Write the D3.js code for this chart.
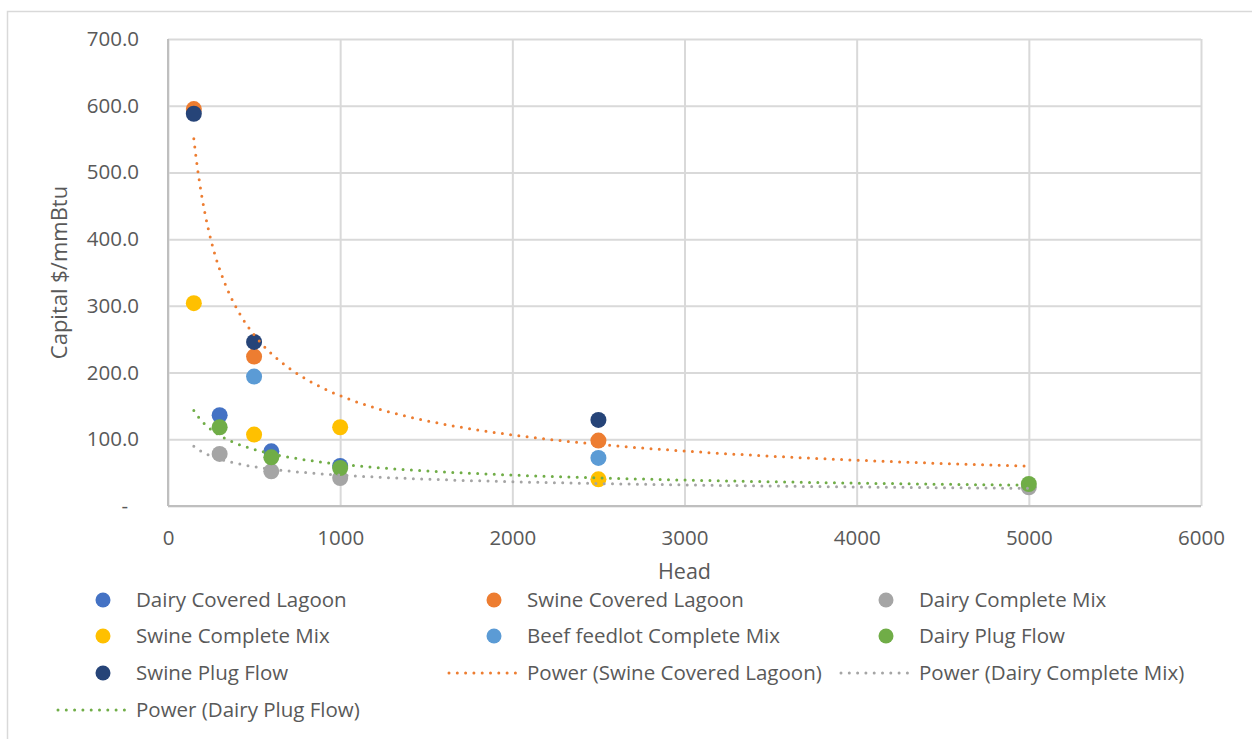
<!DOCTYPE html>
<html>
<head>
<meta charset="utf-8">
<script src="https://cdn.jsdelivr.net/npm/d3@7"></script>
<style>
  html, body { margin: 0; padding: 0; background: #fff; }
  svg { display: block; font-family: "Open Sans", "Noto Sans", sans-serif; }
</style>
</head>
<body>
<svg id="chart" width="1252" height="739"></svg>
<script>
// Capital cost per mmBtu by herd size, per digester / livestock type
const seriesNames = [
  "Dairy Covered Lagoon", "Swine Covered Lagoon", "Dairy Complete Mix",
  "Swine Complete Mix", "Beef feedlot Complete Mix", "Dairy Plug Flow", "Swine Plug Flow"
];
const seriesColors = ["#4472C4", "#ED7D31", "#A5A5A5", "#FFC000", "#5B9BD5", "#70AD47", "#264478"];

const dairyCoveredLagoonHead = [300, 600, 1000];
const dairyCoveredLagoonCost = [136, 82, 60];
const swineCoveredLagoonHead = [150, 500, 2500];
const swineCoveredLagoonCost = [595, 224, 98];
const dairyCompleteMixHead = [300, 600, 1000, 5000];
const dairyCompleteMixCost = [78, 52, 42, 28];
const swineCompleteMixHead = [150, 500, 1000, 2500];
const swineCompleteMixCost = [304, 107, 118, 40];
const beefCompleteMixHead = [500, 2500];
const beefCompleteMixCost = [194, 72];
const dairyPlugFlowHead = [300, 600, 1000, 5000];
const dairyPlugFlowCost = [118, 73, 57, 33];
const swinePlugFlowHead = [150, 500, 2500];
const swinePlugFlowCost = [588, 246, 129];

const xTicks = [0, 1000, 2000, 3000, 4000, 5000, 6000];
const yTicks = [0, 100, 200, 300, 400, 500, 600, 700];

// Power trendlines: index into series, and the head range they span
const trendSeries = [1, 2, 5];
const trendRange = [150, 5000];

const series = [
  [dairyCoveredLagoonHead, dairyCoveredLagoonCost],
  [swineCoveredLagoonHead, swineCoveredLagoonCost],
  [dairyCompleteMixHead, dairyCompleteMixCost],
  [swineCompleteMixHead, swineCompleteMixCost],
  [beefCompleteMixHead, beefCompleteMixCost],
  [dairyPlugFlowHead, dairyPlugFlowCost],
  [swinePlugFlowHead, swinePlugFlowCost]
].map(([h, c], i) => ({
  name: seriesNames[i],
  color: seriesColors[i],
  points: h.map((x, j) => ({ x, y: c[j] }))
}));

const svg = d3.select("#chart");
const textColor = "#595959";
const fontSize = 20.5;

// outer chart frame
svg.append("rect")
  .attr("x", 7.5).attr("y", 11.5)
  .attr("width", 1300).attr("height", 800)
  .attr("fill", "#fff").attr("stroke", "#D9D9D9").attr("stroke-width", 1.5);

const plot = { left: 168, right: 1201, top: 39, bottom: 506 };
const x = d3.scaleLinear().domain([0, 6000]).range([plot.left, plot.right]);
const y = d3.scaleLinear().domain([0, 700]).range([plot.bottom, plot.top]);

// vertical gridlines + x tick labels
const xAxis = svg.append("g")
  .attr("transform", `translate(0,${plot.bottom})`)
  .call(d3.axisBottom(x).tickValues(xTicks).tickFormat(d3.format("d"))
    .tickSize(-(plot.bottom - plot.top)).tickPadding(24));
xAxis.select(".domain").remove();
xAxis.selectAll(".tick line").attr("stroke", "#D9D9D9").attr("stroke-width", 2);
xAxis.selectAll(".tick text").attr("fill", textColor).attr("font-size", fontSize)
  .attr("font-family", "Open Sans");

// horizontal gridlines + y tick labels
const yAxis = svg.append("g")
  .attr("transform", `translate(${plot.left},0)`)
  .call(d3.axisLeft(y).tickValues(yTicks)
    .tickFormat(d => d === 0 ? "-" : d3.format(".1f")(d))
    .tickSize(-(plot.right - plot.left)).tickPadding(29));
yAxis.select(".domain").remove();
yAxis.selectAll(".tick line").attr("stroke", "#D9D9D9").attr("stroke-width", 2);
yAxis.selectAll(".tick text").attr("fill", textColor).attr("font-size", fontSize)
  .attr("font-family", "Open Sans")
  .filter(d => d === 0).attr("x", -40);

// axis lines
svg.append("line")
  .attr("x1", plot.left).attr("x2", plot.right)
  .attr("y1", plot.bottom).attr("y2", plot.bottom)
  .attr("stroke", "#BFBFBF").attr("stroke-width", 2);
svg.append("line")
  .attr("x1", plot.left).attr("x2", plot.left)
  .attr("y1", plot.top).attr("y2", plot.bottom)
  .attr("stroke", "#BFBFBF").attr("stroke-width", 2);

// axis titles
svg.append("text")
  .attr("x", (plot.left + plot.right) / 2).attr("y", 579)
  .attr("text-anchor", "middle").attr("fill", textColor)
  .attr("font-size", 21.5).text("Head");
svg.append("text")
  .attr("transform", `translate(67,${(plot.top + plot.bottom) / 2}) rotate(-90)`)
  .attr("text-anchor", "middle").attr("fill", textColor)
  .attr("font-size", 22).text("Capital $/mmBtu");

// scatter markers
const r = 8;
series.forEach(s => {
  svg.append("g").selectAll("circle").data(s.points).join("circle")
    .attr("cx", d => x(d.x)).attr("cy", d => y(d.y))
    .attr("r", r).attr("fill", s.color);
});

// least-squares power fit y = a * x^b in log-log space
function powerFit(points) {
  const lx = points.map(p => Math.log(p.x));
  const ly = points.map(p => Math.log(p.y));
  const mx = d3.mean(lx), my = d3.mean(ly);
  const sxy = d3.sum(lx, (v, i) => (v - mx) * (ly[i] - my));
  const sxx = d3.sum(lx, v => (v - mx) * (v - mx));
  const b = sxy / sxx;
  const a = Math.exp(my - b * mx);
  return t => a * Math.pow(t, b);
}

const dotted = { width: 3, dash: "0 8.3" };
const line = d3.line().x(d => x(d[0])).y(d => y(d[1]));
trendSeries.forEach(i => {
  const f = powerFit(series[i].points);
  const xs = d3.range(0, 401).map(k => trendRange[0] + (trendRange[1] - trendRange[0]) * k / 400);
  svg.append("path")
    .attr("d", line(xs.map(t => [t, f(t)])))
    .attr("fill", "none").attr("stroke", series[i].color)
    .attr("stroke-width", dotted.width).attr("stroke-linecap", "round")
    .attr("stroke-dasharray", dotted.dash);
});

// legend
const legendItems = [
  { kind: "dot", s: 0, col: 0, row: 0 },
  { kind: "dot", s: 1, col: 1, row: 0 },
  { kind: "dot", s: 2, col: 2, row: 0 },
  { kind: "dot", s: 3, col: 0, row: 1 },
  { kind: "dot", s: 4, col: 1, row: 1 },
  { kind: "dot", s: 5, col: 2, row: 1 },
  { kind: "dot", s: 6, col: 0, row: 2 },
  { kind: "line", s: 1, col: 1, row: 2 },
  { kind: "line", s: 2, col: 2, row: 2 },
  { kind: "line", s: 5, col: 0, row: 3 }
];
const colText = [136, 527, 919];
const rowY = [600, 636, 673, 710];

const legend = svg.append("g");
legendItems.forEach(it => {
  const cy = rowY[it.row], tx = colText[it.col];
  const s = series[it.s];
  if (it.kind === "dot") {
    legend.append("circle").attr("cx", tx - 33).attr("cy", cy).attr("r", 7.5).attr("fill", s.color);
    legend.append("text").attr("x", tx).attr("y", cy).attr("dy", "0.35em")
      .attr("fill", textColor).attr("font-size", fontSize).text(s.name);
  } else {
    legend.append("line")
      .attr("x1", tx - 78).attr("x2", tx - 8).attr("y1", cy).attr("y2", cy)
      .attr("stroke", s.color).attr("stroke-width", dotted.width)
      .attr("stroke-linecap", "round").attr("stroke-dasharray", dotted.dash);
    legend.append("text").attr("x", tx).attr("y", cy).attr("dy", "0.35em")
      .attr("fill", textColor).attr("font-size", fontSize).text(`Power (${s.name})`);
  }
});
</script>
</body>
</html>
